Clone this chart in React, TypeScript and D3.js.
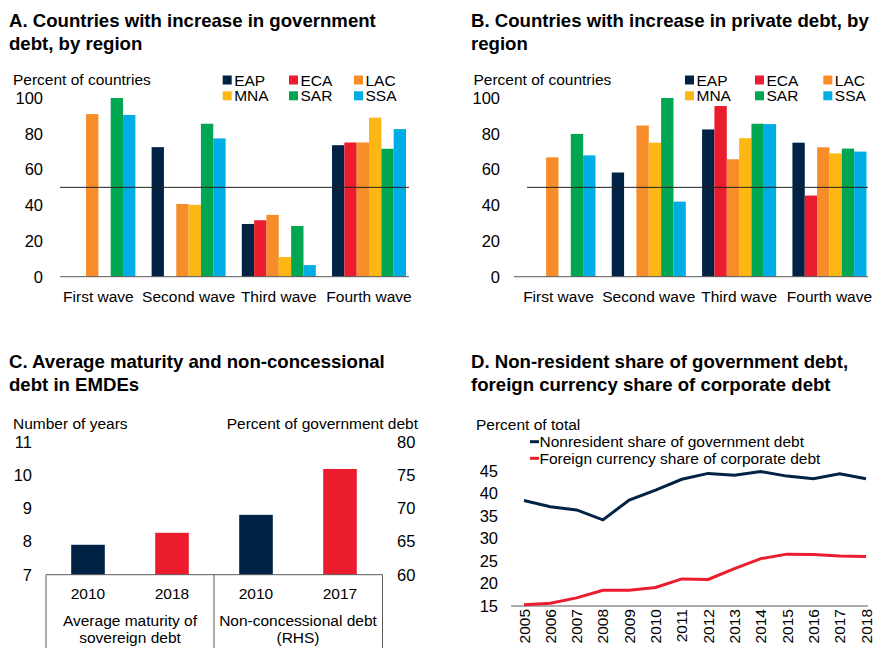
import React from 'react'
import * as d3 from 'd3'

const FONT = '"Liberation Sans", Arial, sans-serif'
const INK = '#000'
const AXIS = '#595959'
const TICK_FS = 16.5
const LABEL_FS = 15.5

const regions = ['EAP', 'ECA', 'LAC', 'MNA', 'SAR', 'SSA']
const regionColors = ['#002345', '#EB1C2D', '#F78D28', '#FDB714', '#00A651', '#00ADE4']
const waves = ['First wave', 'Second wave', 'Third wave', 'Fourth wave']
const pctTicks = [0, 20, 40, 60, 80, 100]

// panel A: government debt, one array per region, one value per wave
const govEAP = [null, 72.5, 29.5, 73.6]
const govECA = [null, null, 31.6, 75.1]
const govLAC = [91, 40.7, 34.6, 75.1]
const govMNA = [null, 40.2, 11, 89]
const govSAR = [100, 85.6, 28.4, 71.6]
const govSSA = [90.5, 77.4, 6.5, 82.6]

// panel B: private debt
const prvEAP = [null, 58.3, 82.4, 75]
const prvECA = [null, null, 95.5, 45.4]
const prvLAC = [66.8, 84.6, 65.7, 72.4]
const prvMNA = [null, 75, 77.5, 69]
const prvSAR = [79.9, 100, 85.6, 71.7]
const prvSSA = [67.9, 42, 85.4, 70]

// panel C
const maturityYears = ['2010', '2018']
const maturityValues = [7.9, 8.26]
const nonconYears = ['2010', '2017']
const nonconValues = [69.0, 75.9]
const leftTicksC = [7, 8, 9, 10, 11]
const rightTicksC = [60, 65, 70, 75, 80]
const groupLabelsC = [['Average maturity of', 'sovereign debt'], ['Non-concessional debt', '(RHS)']]

// panel D
const years = ['2005', '2006', '2007', '2008', '2009', '2010', '2011', '2012', '2013', '2014', '2015', '2016', '2017', '2018']
const nonresident = [38.4, 37.0, 36.3, 34.1, 38.5, 40.7, 43.1, 44.4, 44.0, 44.8, 43.8, 43.2, 44.3, 43.2]
const foreignCcy = [15.3, 15.6, 16.8, 18.5, 18.5, 19.1, 21.0, 20.9, 23.3, 25.5, 26.5, 26.4, 26.1, 26.0]
const ticksD = [15, 20, 25, 30, 35, 40, 45]
const legendD = ['Nonresident share of government debt', 'Foreign currency share of corporate debt']

type Num = number | null

function Title({ x, y, lines }: { x: number; y: number; lines: string[] }) {
  return (
    <text x={x} y={y} fontSize={18.6} fontWeight="bold" fill={INK}>
      {lines.map((l, i) => (
        <tspan key={i} x={x} dy={i === 0 ? 0 : 23}>{l}</tspan>
      ))}
    </text>
  )
}

function WaveBars({ series, bandRange, axisX, refX, labelRight, legendX }:
  { series: Num[][]; bandRange: [number, number]; axisX: [number, number]; refX: [number, number]; labelRight: number; legendX: number[] }) {
  const y = d3.scaleLinear().domain([0, 100]).range([276.7, 98])
  const x0 = d3.scaleBand().domain(waves).range(bandRange).paddingInner(0.18).paddingOuter(0)
  const x1 = d3.scaleBand().domain(regions).range([0, x0.bandwidth()])
  return (
    <g fontFamily={FONT}>
      {waves.map((w, wi) => (
        <g key={w} transform={`translate(${x0(w)},0)`}>
          {regions.map((r, ri) => {
            const v = series[ri][wi]
            if (v == null) return null
            return <rect key={r} x={x1(r)} y={y(v)} width={x1.bandwidth()} height={y(0) - y(v)} fill={regionColors[ri]} />
          })}
        </g>
      ))}
      <line x1={axisX[0]} x2={axisX[1]} y1={y(0)} y2={y(0)} stroke={AXIS} strokeWidth={1} />
      <line x1={refX[0]} x2={refX[1]} y1={y(50)} y2={y(50)} stroke="#222" strokeWidth={1} />
      {pctTicks.map(t => (
        <text key={t} x={labelRight} y={y(t)} textAnchor="end" dominantBaseline="central" fontSize={TICK_FS} fill={INK}>{t}</text>
      ))}
      {waves.map(w => (
        <text key={w} x={(x0(w) as number) + x0.bandwidth() / 2} y={296} textAnchor="middle" dominantBaseline="central" fontSize={LABEL_FS} fill={INK}>{w}</text>
      ))}
      {regions.map((r, i) => {
        const lx = legendX[i % 3]
        const ly = i < 3 ? 80 : 95.8
        return (
          <g key={r}>
            <rect x={lx} y={ly - 4.5} width={9} height={9} fill={regionColors[i]} />
            <text x={lx + 11.5} y={ly} dominantBaseline="central" fontSize={15.5} fill={INK}>{r}</text>
          </g>
        )
      })}
    </g>
  )
}

function PanelC() {
  const yL = d3.scaleLinear().domain([7, 11]).range([574.7, 441.7])
  const yR = d3.scaleLinear().domain([60, 80]).range([574.7, 441.7])
  const slots = ['m0', 'm1', 'n0', 'n1']
  const x = d3.scaleBand().domain(slots).range([46, 382]).paddingInner(0.6).paddingOuter(0.3)
  const bars = [
    { k: 'm0', y: yL(maturityValues[0]), c: regionColors[0], lab: maturityYears[0] },
    { k: 'm1', y: yL(maturityValues[1]), c: regionColors[1], lab: maturityYears[1] },
    { k: 'n0', y: yR(nonconValues[0]), c: regionColors[0], lab: nonconYears[0] },
    { k: 'n1', y: yR(nonconValues[1]), c: regionColors[1], lab: nonconYears[1] },
  ]
  const base = yL(7)
  return (
    <g fontFamily={FONT} fill={INK}>
      {bars.map(b => (
        <rect key={b.k} x={x(b.k)} y={b.y} width={x.bandwidth()} height={base - b.y} fill={b.c} />
      ))}
      {bars.map(b => (
        <text key={b.k + 't'} x={(x(b.k) as number) + x.bandwidth() / 2} y={593} textAnchor="middle" dominantBaseline="central" fontSize={LABEL_FS}>{b.lab}</text>
      ))}
      <line x1={46} x2={382.5} y1={base} y2={base} stroke={AXIS} />
      {[46, 214, 382.5].map(v => (
        <line key={v} x1={v} x2={v} y1={base} y2={648} stroke={AXIS} />
      ))}
      {groupLabelsC.map((g, i) => (
        <text key={i} x={130 + i * 168} y={621} textAnchor="middle" fontSize={LABEL_FS}>
          {g.map((l, j) => (
            <tspan key={j} x={130 + i * 168} dy={j === 0 ? 5 : 17}>{l}</tspan>
          ))}
        </text>
      ))}
      {leftTicksC.map(t => (
        <text key={t} x={32} y={yL(t)} textAnchor="end" dominantBaseline="central" fontSize={TICK_FS}>{t}</text>
      ))}
      {rightTicksC.map(t => (
        <text key={t} x={397} y={yR(t)} dominantBaseline="central" fontSize={TICK_FS}>{t}</text>
      ))}
      <text x={13} y={423} dominantBaseline="central" fontSize={LABEL_FS}>Number of years</text>
      <text x={418} y={423} textAnchor="end" dominantBaseline="central" fontSize={LABEL_FS}>Percent of government debt</text>
    </g>
  )
}

function PanelD() {
  const x = d3.scalePoint().domain(years).range([524, 866])
  const y = d3.scaleLinear().domain([15, 45]).range([606, 470.7])
  const line = d3.line<number>().x((_, i) => x(years[i]) as number).y(v => y(v))
  return (
    <g fontFamily={FONT} fill={INK}>
      <line x1={511} x2={868} y1={y(15)} y2={y(15)} stroke={AXIS} />
      <path d={line(foreignCcy) || ''} fill="none" stroke={regionColors[1]} strokeWidth={3} />
      <path d={line(nonresident) || ''} fill="none" stroke={regionColors[0]} strokeWidth={3} />
      {ticksD.map(t => (
        <text key={t} x={498} y={y(t)} textAnchor="end" dominantBaseline="central" fontSize={TICK_FS}>{t}</text>
      ))}
      {years.map(yr => {
        const px = x(yr) as number
        return (
          <text key={yr} x={px} y={609} transform={`rotate(-90, ${px}, 609)`} textAnchor="end" dominantBaseline="central" fontSize={LABEL_FS}>{yr}</text>
        )
      })}
      <text x={476} y={424} dominantBaseline="central" fontSize={LABEL_FS}>Percent of total</text>
      {legendD.map((l, i) => (
        <g key={l}>
          <line x1={530} x2={539} y1={441.7 + i * 16.6} y2={441.7 + i * 16.6} stroke={regionColors[i]} strokeWidth={3} />
          <text x={539.5} y={441.7 + i * 16.6} dominantBaseline="central" fontSize={LABEL_FS}>{l}</text>
        </g>
      ))}
    </g>
  )
}

export default function App() {
  const gov = [govEAP, govECA, govLAC, govMNA, govSAR, govSSA]
  const prv = [prvEAP, prvECA, prvLAC, prvMNA, prvSAR, prvSSA]
  return (
    <svg width={874} height={648} style={{ position: 'absolute', left: 0, top: 0, background: '#fff' }} fontFamily={FONT}>
      <Title x={9} y={26.5} lines={['A. Countries with increase in government', 'debt, by region']} />
      <Title x={471} y={26.5} lines={['B. Countries with increase in private debt, by', 'region']} />
      <Title x={9} y={368} lines={['C. Average maturity and non-concessional', 'debt in EMDEs']} />
      <Title x={471} y={368} lines={['D. Non-resident share of government debt,', 'foreign currency share of corporate debt']} />

      <text x={13} y={79} dominantBaseline="central" fontSize={LABEL_FS} fill={INK}>Percent of countries</text>
      <WaveBars series={gov} bandRange={[61.4, 406]} axisX={[60, 409]} refX={[60, 409]} labelRight={43} legendX={[222.7, 289, 354]} />

      <text x={473.5} y={79} dominantBaseline="central" fontSize={LABEL_FS} fill={INK}>Percent of countries</text>
      <WaveBars series={prv} bandRange={[521.4, 866.5]} axisX={[514, 868]} refX={[527, 868]} labelRight={500} legendX={[685, 755, 823.3]} />

      <PanelC />
      <PanelD />
    </svg>
  )
}
